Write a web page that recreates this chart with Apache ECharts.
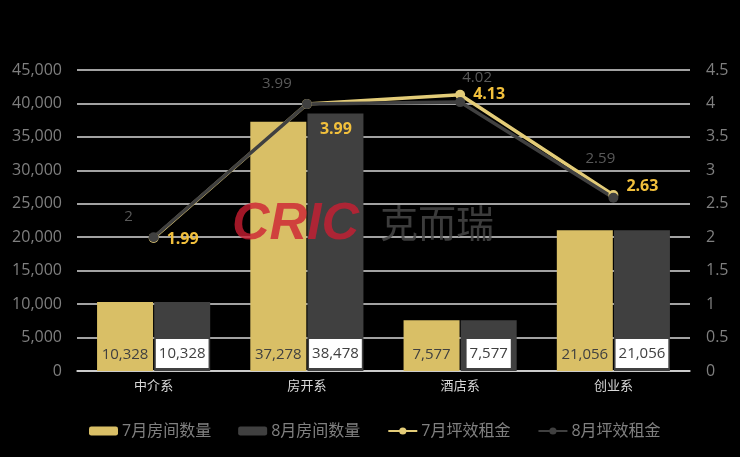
<!DOCTYPE html>
<html><head><meta charset="utf-8">
<script src="https://cdn.jsdelivr.net/npm/echarts@6/dist/echarts.min.js"></script>
<style>html,body{margin:0;padding:0;background:#000;}#c{width:740px;height:457px;}</style>
</head><body><div id="c"></div>
<script>
const categories = ['中介系', '房开系', '酒店系', '创业系'];
const julRooms = [10328, 37278, 7577, 21056];
const augRooms = [10328, 38478, 7577, 21056];
const julRent = [1.99, 3.99, 4.13, 2.63];
const augRent = [2, 3.99, 4.02, 2.59];
const seriesNames = ['7月房间数量', '8月房间数量', '7月坪效租金', '8月坪效租金'];

// label placement offsets (style only)
const julOffsets = [[2, 2], [2, 25], [2, 0], [2, -9]];
const augOffsets = [[-25, 0], [-30, 0], [17, -4], [-13, -19]];

const fmt = v => v.toLocaleString('en-US');
const chart = echarts.init(document.getElementById('c'));
const font = '"Open Sans", "Noto Sans CJK SC", sans-serif';
chart.setOption({
  backgroundColor: '#000',
  animation: false,
  textStyle: { fontFamily: font },
  grid: { left: 77, right: 50, top: 70, bottom: 86 },
  legend: {
    bottom: 13, left: 84, itemWidth: 29, itemHeight: 9, itemGap: 27,
    textStyle: { color: '#808080', fontSize: 16, fontFamily: font, padding: [0, 0, 0, -1] },
    data: seriesNames
  },
  graphic: [
    { type: 'text', left: 232, top: 199, z: 100, style: { text: 'CRIC', font: 'italic bold 52px "Liberation Sans", sans-serif', fill: 'rgba(205,30,50,0.78)' } },
    { type: 'text', left: 380, top: 204, z: 100, style: { text: '克而瑞', font: '38px "Noto Sans CJK SC", sans-serif', fill: 'rgba(70,70,70,0.85)' } }
  ],
  xAxis: {
    type: 'category', data: categories,
    axisLine: { lineStyle: { color: '#d9d9d9', width: 1.5 } },
    axisTick: { show: false },
    axisLabel: { color: '#d9d9d9', fontSize: 13, margin: 9, fontFamily: font }
  },
  yAxis: [
    { type: 'value', min: 0, max: 45000, interval: 5000,
      axisLine: { show: false }, axisTick: { show: false },
      axisLabel: { color: '#7f7f7f', fontSize: 16, margin: 15, formatter: v => fmt(v) },
      splitLine: { lineStyle: { color: '#d9d9d9', width: 1.5 } } },
    { type: 'value', min: 0, max: 4.5, interval: 0.5,
      axisLine: { show: false }, axisTick: { show: false },
      axisLabel: { color: '#7f7f7f', fontSize: 16, margin: 16 },
      splitLine: { show: false } }
  ],
  series: [
    { name: seriesNames[0], type: 'bar', data: julRooms, barWidth: 56, barGap: '2%',
      itemStyle: { color: '#d9bf66' },
      label: { show: true, position: 'insideBottom', distance: 9, color: '#404040', fontSize: 15,
        formatter: p => fmt(p.value) } },
    { name: seriesNames[1], type: 'bar', data: augRooms, barWidth: 56,
      itemStyle: { color: '#404040' },
      label: { show: true, position: 'insideBottom', distance: 3, color: '#404040', fontSize: 15,
        backgroundColor: '#fff', padding: [7, 3, 7, 3], formatter: p => fmt(p.value) } },
    { name: seriesNames[2], type: 'line', yAxisIndex: 1,
      data: julRent.map((v, i) => ({ value: v, label: { offset: julOffsets[i] } })),
      symbol: 'circle', symbolSize: 10,
      lineStyle: { color: '#e3cc78', width: 3.5 }, itemStyle: { color: '#e3cc78' },
      label: { show: true, position: 'right', distance: 6, color: '#f2c03c', fontWeight: 'bold', fontSize: 16 } },
    { name: seriesNames[3], type: 'line', yAxisIndex: 1,
      data: augRent.map((v, i) => ({ value: v, label: { offset: augOffsets[i] } })),
      symbol: 'circle', symbolSize: 10,
      lineStyle: { color: '#404040', width: 3.5 }, itemStyle: { color: '#404040' },
      label: { show: true, position: 'top', distance: 8, color: '#595959', fontSize: 15 } }
  ]
});
</script></body></html>
